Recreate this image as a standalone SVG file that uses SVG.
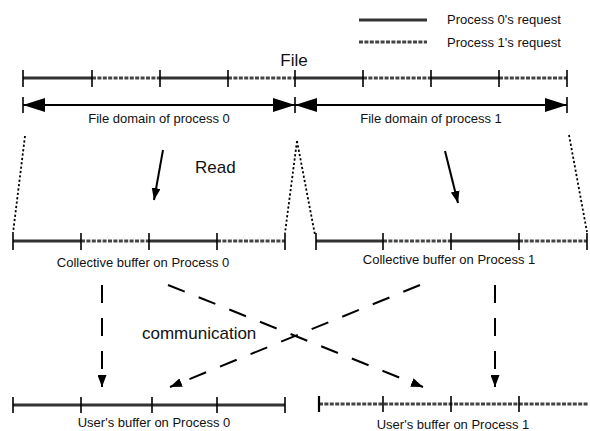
<svg xmlns="http://www.w3.org/2000/svg" width="590" height="431" viewBox="0 0 590 431">
<defs>
<style>
.sol{stroke:#333;stroke-width:3;fill:none}
.dsh{stroke:#444;stroke-width:3.2;fill:none;stroke-dasharray:4 1.4}
.tk{stroke:#000;stroke-width:1.6}
.dot{stroke:#000;stroke-width:1.8;stroke-dasharray:2.2 2.2;fill:none}
.ar{stroke:#000;stroke-width:2;fill:none}
.com{stroke:#000;stroke-width:2;fill:none;stroke-dasharray:18 15}
text{font-family:"Liberation Sans",Arial,sans-serif;fill:#111}
.s{font-size:13px}
.b{font-size:17px}
</style>
<marker id="big" markerWidth="22" markerHeight="14" refX="22" refY="7" orient="auto-start-reverse" markerUnits="userSpaceOnUse">
<path d="M0,0 L22,7 L0,14 Z" fill="#000"/>
</marker>
<marker id="sm" markerWidth="12" markerHeight="9" refX="12" refY="4.5" orient="auto" markerUnits="userSpaceOnUse">
<path d="M0,0 L12,4.5 L0,9 Z" fill="#000"/>
</marker>
</defs>

<g id="legend">
<line class="sol" x1="359" y1="20" x2="427" y2="20"/>
<line class="dsh" x1="359" y1="42" x2="427" y2="42"/>
<text class="s" x="447" y="24">Process 0's request</text>
<text class="s" x="447" y="47">Process 1's request</text>
</g>

<g id="file">
<text class="b" x="294" y="66" text-anchor="middle">File</text>
<line class="sol" x1="23" y1="78" x2="92" y2="78"/>
<line class="dsh" x1="92" y1="78" x2="160" y2="78"/>
<line class="sol" x1="160" y1="78" x2="228" y2="78"/>
<line class="dsh" x1="228" y1="78" x2="295" y2="78"/>
<line class="sol" x1="295" y1="78" x2="363" y2="78"/>
<line class="dsh" x1="363" y1="78" x2="431" y2="78"/>
<line class="sol" x1="431" y1="78" x2="499" y2="78"/>
<line class="dsh" x1="499" y1="78" x2="567" y2="78"/>
<g class="tk">
<line x1="23" y1="70" x2="23" y2="87"/><line x1="92" y1="70" x2="92" y2="87"/>
<line x1="160" y1="70" x2="160" y2="87"/><line x1="228" y1="70" x2="228" y2="87"/>
<line x1="295" y1="70" x2="295" y2="87"/><line x1="363" y1="70" x2="363" y2="87"/>
<line x1="431" y1="70" x2="431" y2="87"/><line x1="499" y1="70" x2="499" y2="87"/>
<line x1="567" y1="70" x2="567" y2="87"/>
</g>
</g>

<g id="domain0">
<line class="tk" x1="23" y1="97" x2="23" y2="113"/>
<line class="ar" x1="23" y1="105" x2="295" y2="105" marker-start="url(#big)" marker-end="url(#big)"/>
<text class="s" x="159" y="123" text-anchor="middle">File domain of process 0</text>
</g>
<g id="domain1">
<line class="tk" x1="295" y1="97" x2="295" y2="113"/>
<line class="tk" x1="567" y1="97" x2="567" y2="113"/>
<line class="ar" x1="295" y1="105" x2="567" y2="105" marker-start="url(#big)" marker-end="url(#big)"/>
<text class="s" x="431" y="123" text-anchor="middle">File domain of process 1</text>
</g>

<g id="cb0">
<line class="sol" x1="13" y1="241" x2="81" y2="241"/>
<line class="dsh" x1="81" y1="241" x2="149" y2="241"/>
<line class="sol" x1="149" y1="241" x2="217" y2="241"/>
<line class="dsh" x1="217" y1="241" x2="285" y2="241"/>
<g class="tk">
<line x1="13" y1="233" x2="13" y2="250"/><line x1="81" y1="233" x2="81" y2="250"/>
<line x1="149" y1="233" x2="149" y2="250"/><line x1="217" y1="233" x2="217" y2="250"/>
<line x1="285" y1="233" x2="285" y2="250"/>
</g>
<text class="s" x="143" y="267" text-anchor="middle">Collective buffer on Process 0</text>
</g>

<g id="cb1">
<line class="sol" x1="316" y1="241" x2="383" y2="241"/>
<line class="dsh" x1="383" y1="241" x2="451" y2="241"/>
<line class="sol" x1="451" y1="241" x2="519" y2="241"/>
<line class="dsh" x1="519" y1="241" x2="587" y2="241"/>
<g class="tk">
<line x1="316" y1="233" x2="316" y2="250"/><line x1="383" y1="233" x2="383" y2="250"/>
<line x1="451" y1="233" x2="451" y2="250"/><line x1="519" y1="233" x2="519" y2="250"/>
<line x1="587" y1="233" x2="587" y2="250"/>
</g>
<text class="s" x="449" y="264" text-anchor="middle">Collective buffer on Process 1</text>
</g>

<g id="ub0">
<line class="sol" x1="13" y1="405" x2="285" y2="405"/>
<g class="tk">
<line x1="13" y1="397" x2="13" y2="413"/><line x1="81" y1="397" x2="81" y2="413"/>
<line x1="152" y1="397" x2="152" y2="413"/><line x1="217" y1="397" x2="217" y2="413"/>
<line x1="285" y1="397" x2="285" y2="413"/>
</g>
<text class="s" x="154" y="427" text-anchor="middle">User's buffer on Process 0</text>
</g>

<g id="ub1">
<line class="dsh" x1="319" y1="404" x2="589" y2="404"/>
<g class="tk">
<line x1="319" y1="396" x2="319" y2="412" stroke-width="2.2"/><line x1="383" y1="396" x2="383" y2="412"/>
<line x1="451" y1="396" x2="451" y2="412"/><line x1="519" y1="396" x2="519" y2="412"/>
</g>
<text class="s" x="453" y="429" text-anchor="middle">User's buffer on Process 1</text>
</g>

<g id="labels">
<text class="b" x="195" y="173">Read</text>
<text class="b" x="142" y="339">communication</text>
</g>

<g id="connectors">
<line class="dot" x1="25" y1="136" x2="13" y2="233"/>
<line class="dot" x1="297" y1="141" x2="285" y2="233"/>
<line class="dot" x1="297" y1="141" x2="315" y2="235"/>
<line class="dot" x1="569" y1="135" x2="587" y2="232"/>
<line class="ar" x1="163" y1="150" x2="154" y2="200" marker-end="url(#sm)"/>
<line class="ar" x1="445" y1="151" x2="458" y2="203" marker-end="url(#sm)"/>
<line class="com" x1="102" y1="285" x2="102" y2="387" marker-end="url(#sm)"/>
<line class="com" x1="495" y1="285" x2="495" y2="387" marker-end="url(#sm)"/>
<line class="com" x1="168" y1="285" x2="423" y2="387" marker-end="url(#sm)"/>
<line class="com" x1="420" y1="285" x2="170" y2="387" marker-end="url(#sm)"/>
</g>
</svg>
